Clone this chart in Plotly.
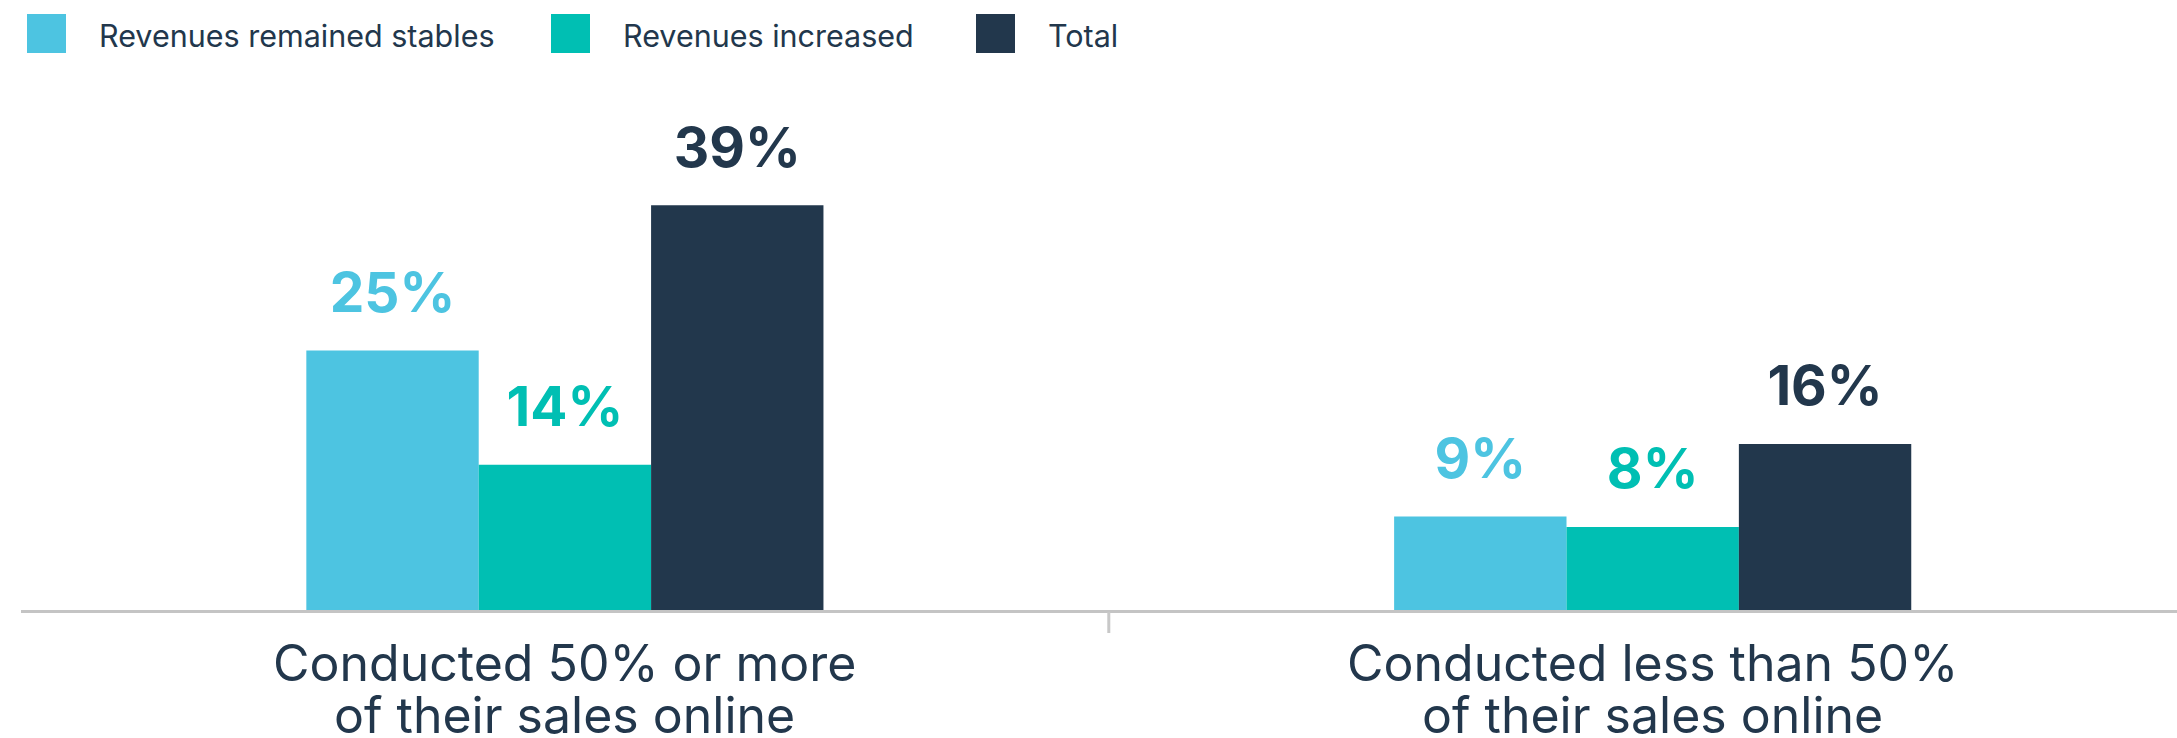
import plotly.graph_objects as go

categories = ["Conducted 50% or more<br>of their sales online",
              "Conducted less than 50%<br>of their sales online"]
series_names = ["Revenues remained stables", "Revenues increased", "Total"]
stable_vals = [25, 9]
increased_vals = [14, 8]
total_vals = [39, 16]
series_values = [stable_vals, increased_vals, total_vals]
colors = ["#4dc4e1", "#00bfb3", "#22374c"]
text_color = "#22374c"

W, H = 2177, 738
ML, MR, MT, MB = 21, 0, 60, 128
PW, PH = W - ML - MR, H - MT - MB
Y_MAX = 52.99
LABEL_PAD = 2.4  # data units between bar top and its label

fig = go.Figure()
for i, (name, vals, col) in enumerate(zip(series_names, series_values, colors)):
    fig.add_trace(go.Bar(
        x=categories, y=vals, name=name, marker_color=col,
        marker_line_width=0, offsetgroup=str(i), showlegend=False,
        hoverinfo="skip"))
for i, (name, vals, col) in enumerate(zip(series_names, series_values, colors)):
    fig.add_trace(go.Scatter(
        x=categories, y=[v + LABEL_PAD for v in vals], mode="text",
        text=[f"{v}%" for v in vals], textposition="top center",
        textfont=dict(family="Inter", size=55, color=col, weight=700),
        offsetgroup=str(i), showlegend=False, cliponaxis=False,
        hoverinfo="skip"))

# category labels, one annotation per line for tighter line spacing
for cat in categories:
    for j, line in enumerate(cat.split("<br>")):
        fig.add_annotation(xref="x", yref="paper", x=cat, y=0, yanchor="top",
                           yshift=-21 - 52 * j, text=line, showarrow=False,
                           font=dict(family="Inter", size=50, color=text_color))

# manual legend (large square swatches)
legend_x_px = [27, 551, 976]
def px_x(p):
    return (p - ML) / PW
def px_y(p):
    return 1 - (p - MT) / PH
for name, col, lx in zip(series_names, colors, legend_x_px):
    fig.add_shape(type="rect", xref="paper", yref="paper",
                  x0=px_x(lx), x1=px_x(lx + 39), y0=px_y(53), y1=px_y(14),
                  fillcolor=col, line_width=0)
    fig.add_annotation(xref="paper", yref="paper", x=px_x(lx + 70), y=px_y(35),
                       text=name, showarrow=False, xanchor="left", yanchor="middle",
                       font=dict(family="Inter", size=30.5, color=text_color))

# divider tick between the two groups
fig.add_shape(type="line", xref="x", yref="paper", x0=0.5, x1=0.5,
              ysizemode="pixel", yanchor=0, y0=-2, y1=-23,
              line=dict(color="#c8c8c8", width=3))

fig.update_layout(
    width=W, height=H,
    margin=dict(l=ML, r=MR, t=MT, b=MB, autoexpand=False),
    paper_bgcolor="white", plot_bgcolor="white",
    barmode="group", bargap=0.5246, bargroupgap=0,
    scattermode="group", scattergap=0.5246,
    showlegend=False,
    xaxis=dict(range=[-0.5, 1.482], showline=True, linecolor="#c4c4c4",
               linewidth=3, ticks="", showticklabels=False,
               showgrid=False, zeroline=False),
    yaxis=dict(range=[0, Y_MAX], visible=False, showgrid=False, zeroline=False),
)

fig.write_html("out.html")
